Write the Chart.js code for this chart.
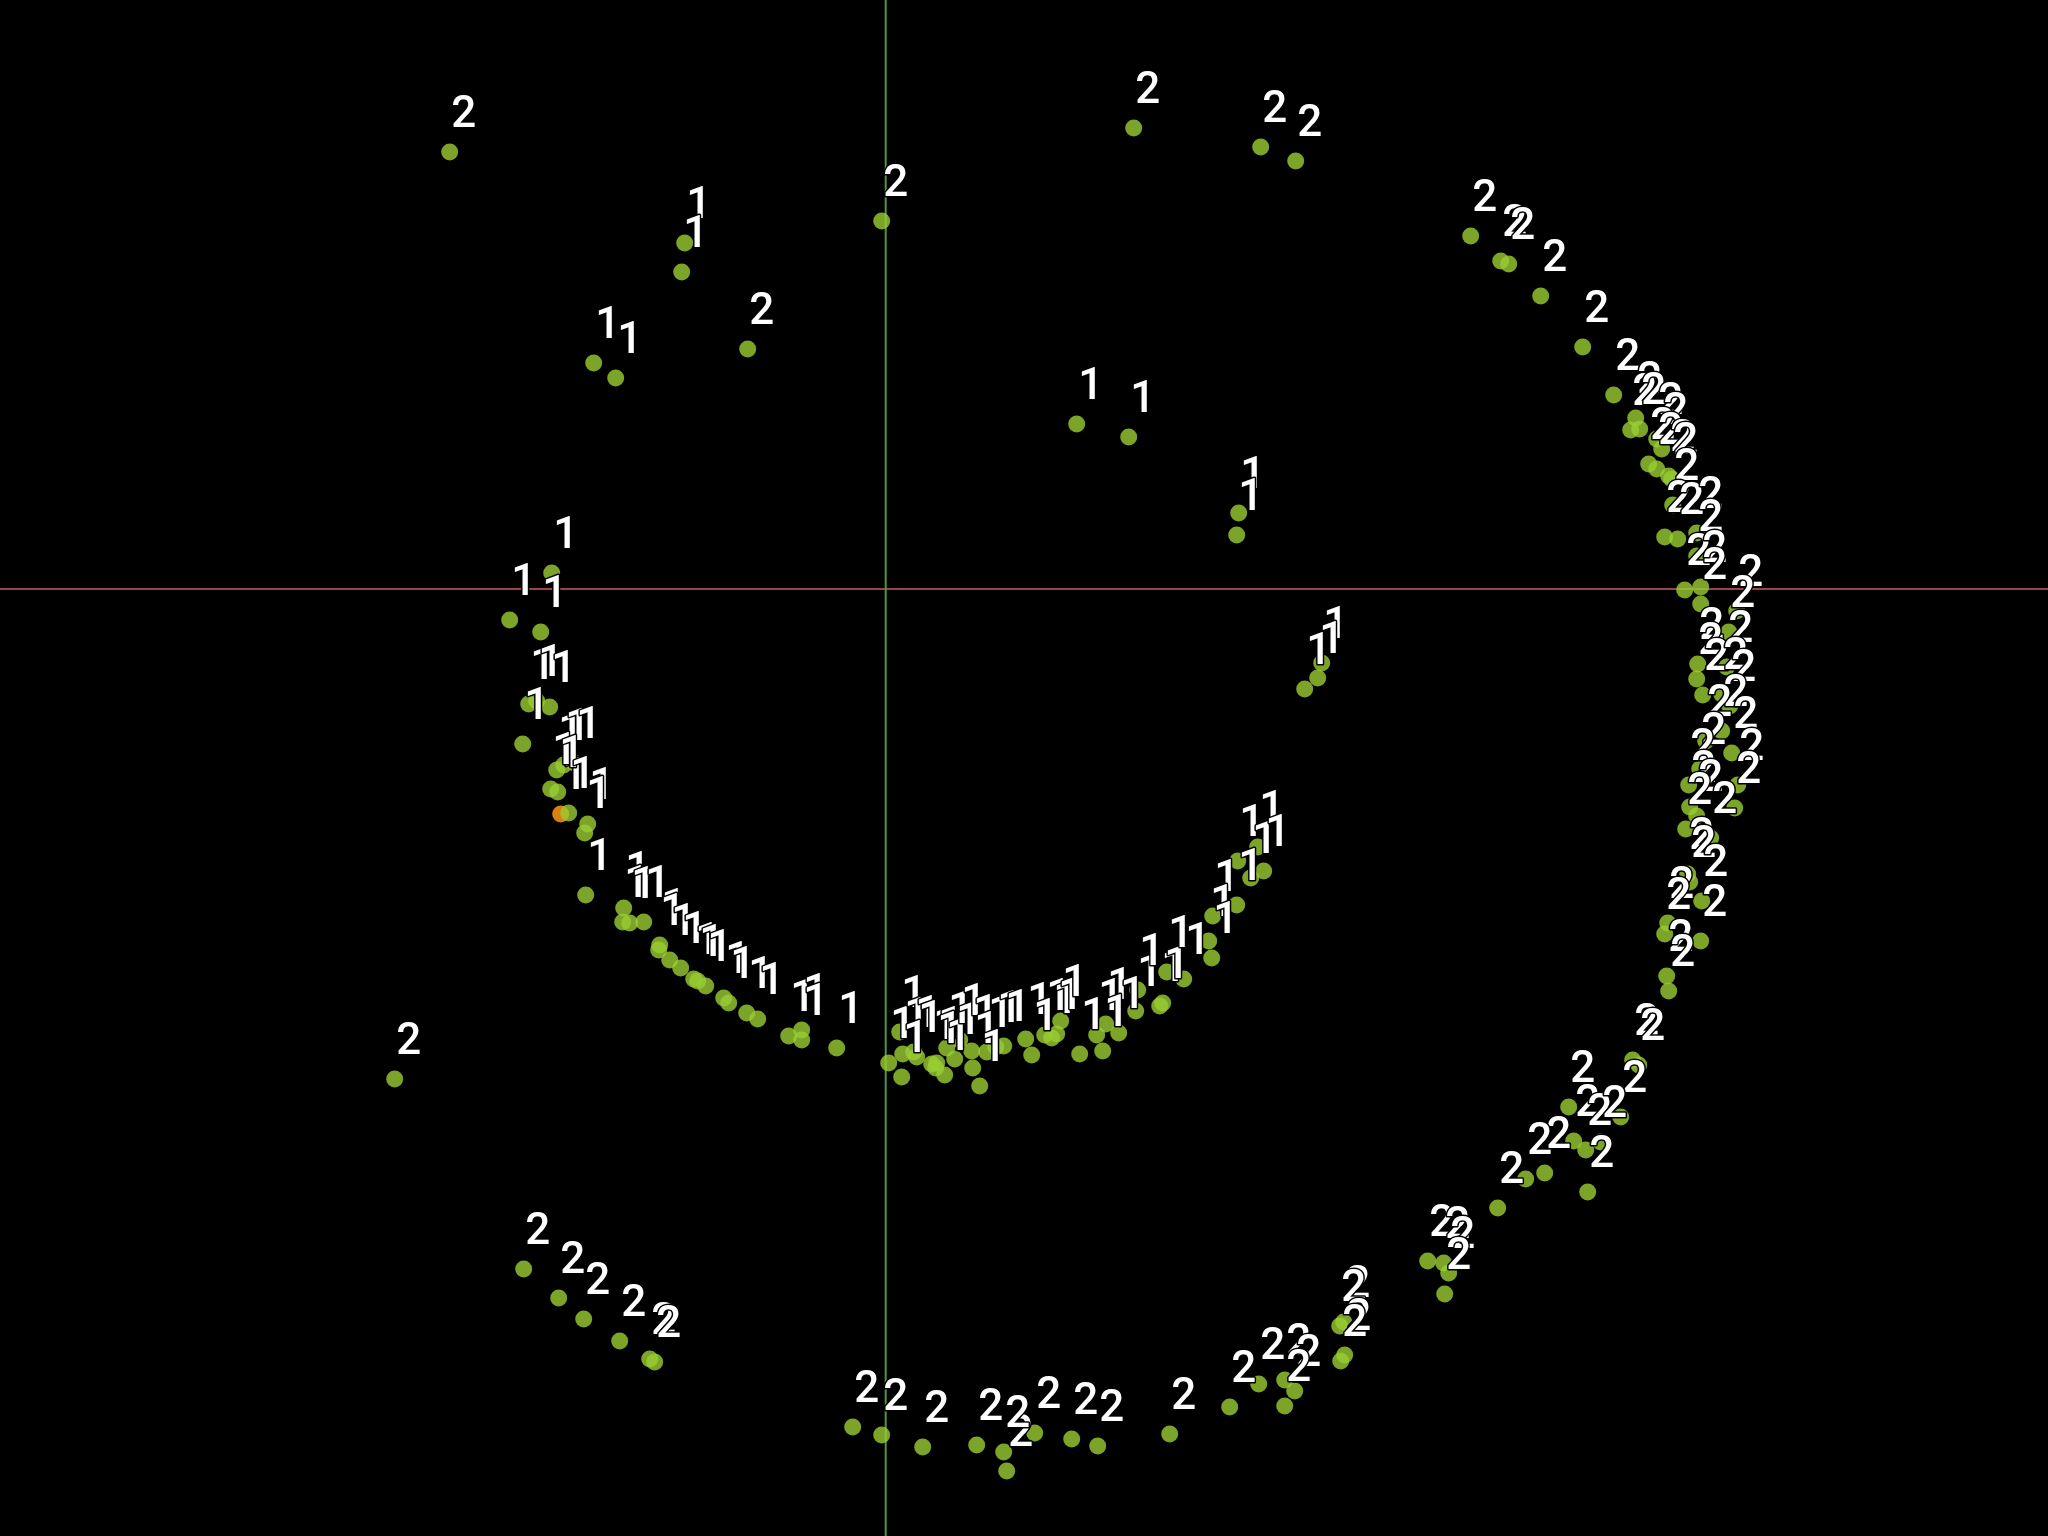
<!DOCTYPE html>
<html>
<head>
<meta charset="utf-8">
<script src="https://cdn.jsdelivr.net/npm/chart.js@4/dist/chart.umd.min.js"></script>
<style>
html,body{margin:0;padding:0;background:#000;}
#wrap{width:2048px;height:1536px;position:relative;}
</style>
</head>
<body>
<div id="wrap"><canvas id="c" width="2048" height="1536"></canvas></div>
<script>
// Cluster "1" points [x, y]
const cluster1 = [
  [-3.25,-2.25],
  [-2.01,3.46],[-2.04,3.17],[-2.92,2.26],[-2.70,2.11],
  [1.91,1.65],[2.43,1.52],[3.53,0.76],[3.51,0.54],
  [4.36,-0.74],[4.32,-0.89],[4.19,-1.00],
  [-3.34,0.16],[-3.76,-0.31],[-3.45,-0.43],[-3.57,-1.15],[-3.49,-1.12],[-3.36,-1.18],
  [-3.63,-1.55],[-3.29,-1.81],[-3.22,-1.76],[-3.11,-1.74],[-3.35,-2.00],[-3.28,-2.03],
  [-3.17,-2.24],[-2.98,-2.35],[-3.01,-2.44],[-3.00,-3.06],[-2.62,-3.19],[-2.63,-3.33],
  [-2.56,-3.34],[-2.42,-3.33],
  [-2.26,-3.56],[-2.27,-3.61],[-2.16,-3.71],[-2.05,-3.79],[-1.92,-3.90],[-1.88,-3.92],
  [-1.80,-3.97],[-1.62,-4.09],[-1.57,-4.14],[-1.39,-4.24],[-1.28,-4.30],[-0.97,-4.47],
  [-0.84,-4.41],[-0.84,-4.51],[-0.49,-4.59],
  [0.03,-4.74],[0.14,-4.43],[0.17,-4.65],[0.16,-4.88],[0.28,-4.63],[0.31,-4.68],
  [0.46,-4.75],[0.51,-4.74],[0.50,-4.79],[0.59,-4.86],[0.61,-4.59],[0.69,-4.70],
  [0.74,-4.51],[0.86,-4.62],[0.87,-4.79],[0.94,-4.97],[1.01,-4.63],[1.10,-4.58],
  [1.18,-4.57],[1.40,-4.50],[1.46,-4.66],[1.59,-4.46],[1.66,-4.49],[1.71,-4.45],
  [1.75,-4.32],[1.94,-4.65],[2.11,-4.46],[2.20,-4.35],[2.17,-4.62],[2.33,-4.44],
  [2.50,-4.22],[2.52,-4.01],[2.74,-4.17],[2.77,-4.14],[2.81,-3.83],[2.98,-3.90],
  [3.72,-2.58],[3.52,-2.72],[3.65,-2.89],[3.78,-2.82],[3.51,-3.16],[3.27,-3.27],
  [3.23,-3.52],[3.26,-3.69]
];
// index of the highlighted (orange) point in cluster1
const highlightIndex = 0;

// Cluster "2" points [x, y]
const cluster2 = [
  [-4.36,4.37],[-1.38,2.40],[-0.04,3.68],[2.48,4.61],[3.75,4.42],[4.10,4.28],
  [5.85,3.53],[6.15,3.28],[6.23,3.25],[6.55,2.93],[6.97,2.42],[7.28,1.94],
  [7.50,1.71],[7.45,1.59],[7.54,1.60],[7.71,1.50],[7.76,1.40],[7.63,1.25],
  [7.71,1.20],[7.83,1.13],[7.86,1.10],[7.87,0.84],[7.79,0.52],[7.92,0.50],
  [8.11,0.56],[8.11,0.33],[7.99,-0.01],[8.15,0.02],[8.15,-0.15],[8.51,-0.22],
  [8.43,-0.43],[8.12,-0.75],[8.11,-0.90],[8.41,-0.78],[8.17,-1.06],[8.36,-1.05],
  [8.44,-1.17],[8.36,-1.42],[8.20,-1.52],[8.46,-1.64],[8.14,-1.80],[8.03,-1.96],
  [8.52,-1.96],[8.49,-2.19],[8.04,-2.18],[8.11,-2.27],[8.00,-2.40],[8.25,-2.49],
  [8.02,-2.85],[8.04,-2.93],[8.16,-3.12],[7.82,-3.34],[7.79,-3.45],[8.15,-3.52],
  [7.81,-3.87],[7.83,-4.02],[7.47,-4.71],[7.53,-4.76],[6.83,-5.18],[7.35,-5.28],
  [6.88,-5.52],[7.00,-5.61],[7.15,-5.53],[6.59,-5.84],[6.40,-5.90],[7.02,-6.03],
  [6.12,-6.19],[5.42,-6.72],[5.58,-6.74],[5.63,-6.84],[5.59,-7.05],[4.58,-7.33],
  [4.54,-7.37],[4.59,-7.66],[4.55,-7.72],[3.99,-7.91],[4.09,-8.02],[3.99,-8.17],
  [3.73,-7.95],[3.44,-8.18],[2.84,-8.45],[2.12,-8.57],[1.86,-8.50],[1.49,-8.44],
  [1.21,-8.82],[1.18,-8.63],[0.91,-8.56],[0.37,-8.58],[-0.04,-8.46],[-0.33,-8.38],
  [-4.91,-4.90],[-3.62,-6.80],[-3.27,-7.09],[-3.02,-7.30],[-2.66,-7.52],[-2.36,-7.70],
  [-2.31,-7.73]
];
const clusterLabels = ['1', '2'];
const xRange = [-8.857, 11.623];
const yRange = [-9.47, 5.89];

const POINT_COLOR = 'rgba(154,205,50,0.8)';
const HIGHLIGHT_COLOR = 'rgba(255,150,20,0.85)';

const toXY = arr => arr.map(p => ({x: p[0], y: p[1]}));

const axesPlugin = {
  id: 'originAxes',
  beforeDatasetsDraw(chart) {
    const {ctx, scales} = chart;
    const x0 = scales.x.getPixelForValue(0);
    const y0 = scales.y.getPixelForValue(0);
    ctx.save();
    ctx.lineWidth = 2;
    ctx.strokeStyle = 'rgb(150,70,70)';
    ctx.beginPath();
    ctx.moveTo(0, y0);
    ctx.lineTo(chart.width, y0);
    ctx.stroke();
    ctx.strokeStyle = 'rgb(85,150,60)';
    ctx.beginPath();
    ctx.moveTo(x0, 0);
    ctx.lineTo(x0, chart.height);
    ctx.stroke();
    ctx.restore();
  }
};

const labelPlugin = {
  id: 'pointLabels',
  afterDatasetsDraw(chart) {
    const {ctx} = chart;
    ctx.save();
    ctx.font = "500 44px Roboto, 'Liberation Sans', Arial, sans-serif";
    ctx.textAlign = 'left';
    ctx.textBaseline = 'alphabetic';
    ctx.lineJoin = 'round';
    chart.data.datasets.forEach((ds, di) => {
      const meta = chart.getDatasetMeta(di);
      meta.data.forEach(el => {
        const tx = el.x + 1.5, ty = el.y - 25;
        ctx.lineWidth = 3;
        ctx.strokeStyle = '#000';
        ctx.strokeText(ds.label, tx, ty);
        ctx.fillStyle = '#fff';
        ctx.fillText(ds.label, tx, ty);
      });
    });
    ctx.restore();
  }
};

new Chart(document.getElementById('c'), {
  type: 'scatter',
  data: {
    datasets: [
      {
        label: clusterLabels[1],
        data: toXY(cluster2),
        backgroundColor: POINT_COLOR,
        borderWidth: 0,
        pointRadius: 8.5,
        pointHoverRadius: 8.5,
        clip: false
      },
      {
        label: clusterLabels[0],
        data: toXY(cluster1),
        backgroundColor: ctx => ctx.dataIndex === highlightIndex ? HIGHLIGHT_COLOR : POINT_COLOR,
        borderWidth: 0,
        pointRadius: 8.5,
        pointHoverRadius: 8.5,
        clip: false
      }
    ]
  },
  options: {
    responsive: false,
    devicePixelRatio: 1,
    animation: false,
    layout: {padding: 0, autoPadding: false},
    plugins: {legend: {display: false}, tooltip: {enabled: false}},
    events: [],
    scales: {
      x: {type: 'linear', min: xRange[0], max: xRange[1], display: false},
      y: {type: 'linear', min: yRange[0], max: yRange[1], display: false}
    }
  },
  plugins: [axesPlugin, labelPlugin]
});
</script>
</body>
</html>
